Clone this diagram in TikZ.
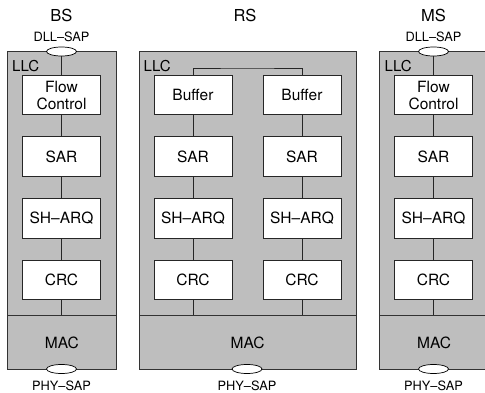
\documentclass[tikz,border=0pt]{standalone}
\usepackage{fontspec}
\setmainfont{TeX Gyre Heros}
\usetikzlibrary{shapes.geometric}
\definecolor{layergray}{RGB}{190,190,190}
\begin{document}
\begin{tikzpicture}[x=1pt,y=-1pt,
  region/.style={draw=black!80, fill=layergray, line width=0.8pt, inner sep=0pt, anchor=north west},
  fbox/.style={draw=black!85, fill=white, line width=0.8pt, minimum width=78pt, minimum height=39.5pt, inner sep=0pt, align=center, font=\fontsize{15.5}{17}\selectfont},
  sap/.style={ellipse, draw=black, fill=white, line width=0.7pt, minimum width=30pt, minimum height=9pt, inner sep=0pt},
  title/.style={font=\fontsize{16.5}{18}\selectfont, inner sep=0pt},
  saplabel/.style={font=\fontsize{12.8}{14}\selectfont, inner sep=0pt},
  llclabel/.style={font=\fontsize{15}{16}\selectfont, inner sep=0pt, anchor=north west},
  maclabel/.style={font=\fontsize{15.5}{17}\selectfont},
  link/.style={draw=black!85, line width=0.7pt}]
\useasboundingbox (0,0) rectangle (485,393);
\clip (0,0) rectangle (485,393);

% titles
\node[title] (tbs) at (61.5,15) {BS};
\node[title] (trs) at (245,15) {RS};
\node[title] (tms) at (433.5,15) {MS};

% SAP labels
\node[saplabel] (lbsdll) at (61.5,37) {DLL--SAP};
\node[saplabel] (lmsdll) at (433.5,37) {DLL--SAP};
\node[saplabel] (lbsphy) at (61.5,385.5) {PHY--SAP};
\node[saplabel] (lrsphy) at (247,385.5) {PHY--SAP};
\node[saplabel] (lmsphy) at (433.5,385.5) {PHY--SAP};

% LLC regions
\node[region, minimum width=109pt, minimum height=263.5pt] (bsllc) at (7,51.5) {};
\node[region, minimum width=217.5pt, minimum height=263.5pt] (rsllc) at (138.5,51.5) {};
\node[region, minimum width=109.5pt, minimum height=263.5pt] (msllc) at (379,51.5) {};
% MAC regions
\node[region, minimum width=109pt, minimum height=54pt, maclabel] (bsmac) at (7,315) {MAC};
\node[region, minimum width=217.5pt, minimum height=54pt, maclabel] (rsmac) at (138.5,315) {MAC};
\node[region, minimum width=109.5pt, minimum height=54pt, maclabel] (msmac) at (379,315) {MAC};

% LLC labels
\node[llclabel] (lbsllc) at (12,60) {LLC};
\node[llclabel] (lrsllc) at (143.5,60) {LLC};
\node[llclabel] (lmsllc) at (384.5,60) {LLC};

% function boxes
\node[fbox] (bsfc) at (61.5,95) {Flow\\Control};
\node[fbox] (rsafc) at (193,95) {Buffer};
\node[fbox] (rsbfc) at (302,95) {Buffer};
\node[fbox] (msfc) at (433.5,95) {Flow\\Control};
\foreach \n/\x in {bs/61.5, rsa/193, rsb/302, ms/433.5} {
  \node[fbox] (\n sar) at (\x,156.5) {SAR};
  \node[fbox] (\n arq) at (\x,218.5) {SH--ARQ};
  \node[fbox] (\n crc) at (\x,280) {CRC};
  \draw[link] (\n fc) -- (\n sar);
  \draw[link] (\n sar) -- (\n arq);
  \draw[link] (\n arq) -- (\n crc);
}
\draw[link] (bscrc.south) -- (bscrc.south |- bsmac.north);
\draw[link] (rsacrc.south) -- (rsacrc.south |- rsmac.north);
\draw[link] (rsbcrc.south) -- (rsbcrc.south |- rsmac.north);
\draw[link] (mscrc.south) -- (mscrc.south |- msmac.north);

% buffer interconnection
\coordinate (rstop) at (247,68);
\draw[link] (rsafc.north) |- (rstop) -| (rsbfc.north);

% SAP ellipses
\node[sap] (bsdll) at (61.5,51.5) {};
\node[sap] (msdll) at (433.5,51.5) {};
\node[sap] (bsphy) at (61.5,369) {};
\node[sap] (rsphy) at (247,369) {};
\node[sap] (msphy) at (433.5,369) {};
\draw[link] (bsdll) -- (bsfc);
\draw[link] (msdll) -- (msfc);
\end{tikzpicture}
\end{document}
